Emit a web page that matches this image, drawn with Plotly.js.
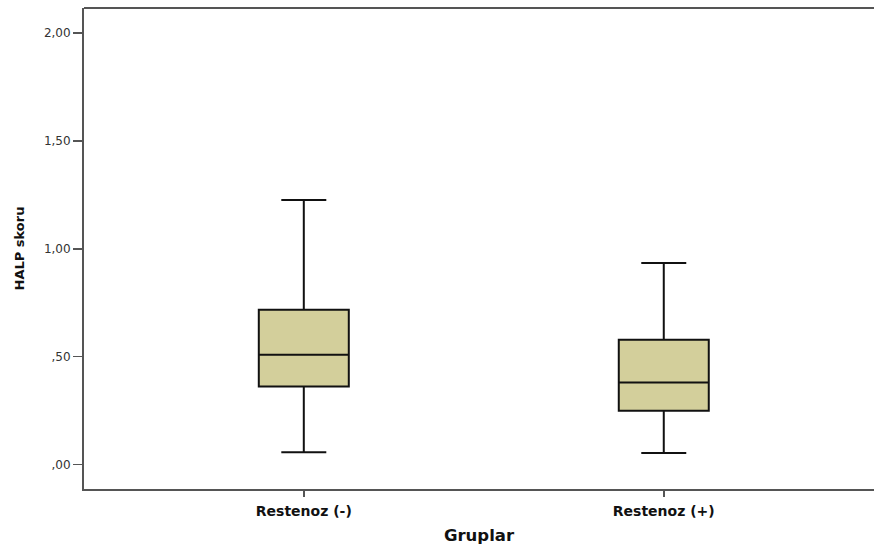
<!DOCTYPE html>
<html>
<head>
<meta charset="utf-8">
<script src="https://cdn.plot.ly/plotly-3.0.1.min.js"></script>
<style>html,body{margin:0;padding:0;background:#fff;overflow:hidden;}#chart{width:874px;height:545px;display:block;}</style>
</head>
<body>
<div id="chart"></div>
<script>
const groups = ['Restenoz (-)', 'Restenoz (+)'];
const lowerFence = [0.056, 0.053];
const q1 = [0.362, 0.249];
const median = [0.509, 0.380];
const q3 = [0.717, 0.578];
const upperFence = [1.227, 0.934];
const yTickVals = [0, 0.5, 1, 1.5, 2];
const yTickText = [',00', ',50', '1,00', '1,50', '2,00'];

const trace = {
  type: 'box',
  x: groups,
  q1: q1,
  median: median,
  q3: q3,
  lowerfence: lowerFence,
  upperfence: upperFence,
  width: 0.25,
  whiskerwidth: 0.5,
  fillcolor: '#d3cf9b',
  line: {color: '#111111', width: 2},
  boxpoints: false,
  hoverinfo: 'skip'
};

const layout = {
  width: 874,
  height: 545,
  margin: {l: 84, r: 0, t: 8, b: 56, autoexpand: false},
  paper_bgcolor: '#ffffff',
  plot_bgcolor: '#ffffff',
  showlegend: false,
  font: {family: 'DejaVu Sans, sans-serif', color: '#222222'},
  xaxis: {
    type: 'category',
    range: [-0.6106, 1.584],
    showgrid: false,
    zeroline: false,
    showline: true,
    linecolor: '#555555',
    linewidth: 2,
    mirror: false,
    ticks: 'outside',
    ticklen: 6,
    tickwidth: 1.5,
    tickcolor: '#555555',
    automargin: false,
    ticklabelstandoff: 2,
    tickfont: {size: 14, family: 'DejaVu Sans, sans-serif', color: '#111111', weight: 'bold'},
    title: {text: '<b>Gruplar</b>', font: {size: 16.5, family: 'DejaVu Sans, sans-serif', color: '#111111'}, standoff: 16}
  },
  yaxis: {
    range: [-0.114, 2.117],
    tickvals: yTickVals,
    ticktext: yTickText,
    showgrid: false,
    zeroline: false,
    showline: true,
    linecolor: '#555555',
    linewidth: 2,
    ticks: 'outside',
    ticklen: 9,
    tickwidth: 1.5,
    tickcolor: '#555555',
    automargin: false,
    tickfont: {size: 12, family: 'DejaVu Sans, sans-serif', color: '#333333'},
    title: {text: '<b>HALP skoru</b>', font: {size: 13, family: 'DejaVu Sans, sans-serif', color: '#111111'}, standoff: 16}
  },
  shapes: [{
    type: 'line', xref: 'paper', yref: 'paper',
    x0: 0, x1: 1, y0: 1, y1: 1,
    line: {color: '#555555', width: 2}
  }]
};

Plotly.newPlot('chart', [trace], layout, {displayModeBar: false, staticPlot: true});
</script>
</body>
</html>
